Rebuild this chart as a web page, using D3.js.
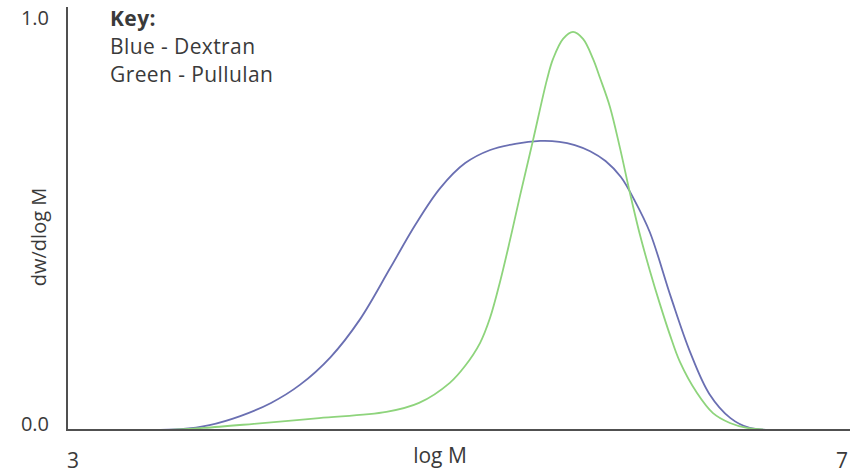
<!DOCTYPE html>
<html>
<head>
<meta charset="utf-8">
<script src="https://cdn.jsdelivr.net/npm/d3@7"></script>
<style>
  html, body { margin: 0; padding: 0; background: #fff; }
  svg { display: block; }
  text { font-family: "Open Sans", Lato, sans-serif; fill: #3a3a3a; }
</style>
</head>
<body>
<svg id="chart" width="850" height="475"></svg>
<script>
// Molecular weight distributions: log M against dw/dlog M
const dextranLogM = [3.40, 3.56, 3.71, 3.87, 4.03, 4.18, 4.34, 4.49, 4.65, 4.78, 4.91, 5.04, 5.17, 5.30, 5.43, 5.53, 5.61, 5.69, 5.77, 5.85, 5.92, 6.00, 6.11, 6.21, 6.31, 6.42, 6.52, 6.63, 6.78];
const dextranW    = [0.000, 0.002, 0.012, 0.034, 0.066, 0.110, 0.178, 0.268, 0.395, 0.500, 0.590, 0.651, 0.683, 0.698, 0.705, 0.703, 0.695, 0.680, 0.656, 0.617, 0.561, 0.483, 0.324, 0.190, 0.088, 0.029, 0.005, 0.000, 0.000];

const pullulanLogM = [3.50, 3.68, 3.94, 4.28, 4.63, 4.80, 4.96, 5.039, 5.117, 5.169, 5.221, 5.273, 5.325, 5.393, 5.465, 5.497, 5.549, 5.601, 5.653, 5.705, 5.741, 5.793, 5.845, 5.897, 5.949, 6.001, 6.053, 6.105, 6.157, 6.246, 6.329, 6.417, 6.506, 6.626];
const pullulanW    = [0.000, 0.005, 0.015, 0.029, 0.044, 0.066, 0.115, 0.156, 0.212, 0.273, 0.361, 0.463, 0.571, 0.707, 0.854, 0.905, 0.954, 0.971, 0.954, 0.905, 0.859, 0.788, 0.688, 0.578, 0.476, 0.388, 0.307, 0.232, 0.166, 0.090, 0.041, 0.017, 0.005, 0.000];

const xTicks = [3, 7];
const yTicks = [0, 1];
const yTickLabels = ["0.0", "1.0"];
const keyLines = ["Key:", "Blue - Dextran", "Green - Pullulan"];

const svg = d3.select("#chart");

const x = d3.scaleLinear().domain([3, 7]).range([73, 842]);
const y = d3.scaleLinear().domain([0, 1]).range([430, 20]);

const line = d3.line()
  .x(d => x(d[0]))
  .y(d => y(d[1]))
  .curve(d3.curveCatmullRom.alpha(0.5));

const series = [
  { xs: dextranLogM, ys: dextranW, color: "#6a6fb2" },
  { xs: pullulanLogM, ys: pullulanW, color: "#8ed47c" }
];

series.forEach(s => {
  svg.append("path")
    .datum(s.xs.map((v, i) => [v, s.ys[i]]))
    .attr("fill", "none")
    .attr("stroke", s.color)
    .attr("stroke-width", 1.8)
    .attr("d", line);
});

// Axis lines
svg.append("line")
  .attr("x1", 67).attr("x2", 67)
  .attr("y1", 7).attr("y2", y(0) + 1)
  .attr("stroke", "#505050").attr("stroke-width", 2);
svg.append("line")
  .attr("x1", 66).attr("x2", 850)
  .attr("y1", y(0)).attr("y2", y(0))
  .attr("stroke", "#505050").attr("stroke-width", 2);

// Tick labels
svg.selectAll(".xt").data(xTicks).enter().append("text")
  .attr("x", d => x(d))
  .attr("y", 468)
  .attr("text-anchor", "middle")
  .attr("font-size", 21)
  .text(d => d);

svg.selectAll(".yt").data(yTicks).enter().append("text")
  .attr("x", 49)
  .attr("y", d => y(d) + 1 + d * 4)
  .attr("text-anchor", "end")
  .attr("font-size", 20)
  .text((d, i) => yTickLabels[i]);

// Axis titles
svg.append("text")
  .attr("x", 440).attr("y", 463)
  .attr("text-anchor", "middle")
  .attr("font-size", 21)
  .text("log M");

svg.append("text")
  .attr("transform", "translate(46,237) rotate(-90)")
  .attr("text-anchor", "middle")
  .attr("font-size", 20)
  .text("dw/dlog M");

// Key
svg.selectAll(".key").data(keyLines).enter().append("text")
  .attr("x", 110)
  .attr("y", (d, i) => 26 + i * 28)
  .attr("font-size", 21)
  .attr("letter-spacing", 0.4)
  .attr("font-weight", (d, i) => i === 0 ? 700 : 400)
  .text(d => d);
</script>
</body>
</html>
